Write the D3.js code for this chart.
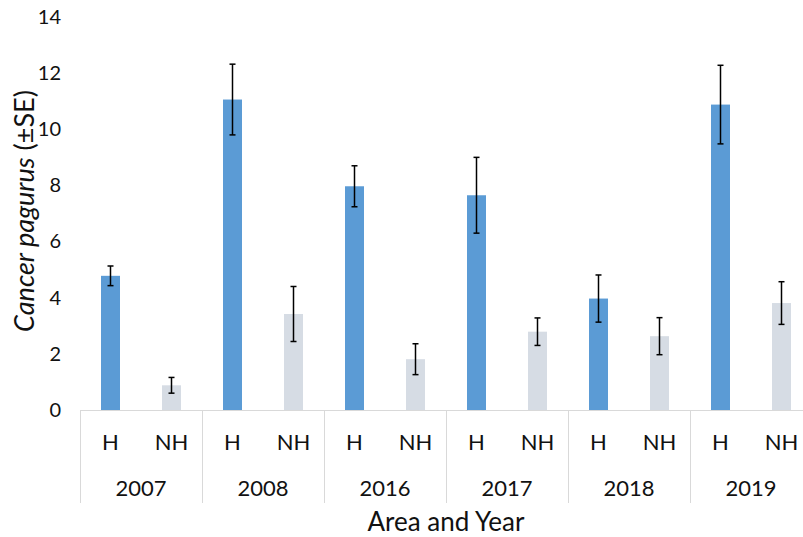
<!DOCTYPE html>
<html>
<head>
<meta charset="utf-8">
<script src="https://cdn.jsdelivr.net/npm/d3@7"></script>
<style>
  html, body { margin: 0; padding: 0; background: #fff; }
  svg { display: block; font-family: Lato, "Open Sans", sans-serif; }
</style>
</head>
<body>
<svg id="chart" width="803" height="537"></svg>
<script>
// Mean abundance of Cancer pagurus by area (H / NH) and survey year
const years = ["2007", "2008", "2016", "2017", "2018", "2019"];
const areas = ["H", "NH"];
const meanH  = [4.78, 11.06, 7.97, 7.65, 3.97, 10.88];
const meanNH = [0.88, 3.42, 1.81, 2.79, 2.63, 3.81];
const seH    = [0.35, 1.26, 0.73, 1.35, 0.84, 1.40];
const seNH   = [0.28, 0.98, 0.55, 0.49, 0.66, 0.76];
const yTicks = [0, 2, 4, 6, 8, 10, 12, 14];

const colors = { H: "#5B9BD5", NH: "#D6DCE4" };
const textCol = "#111";

const rows = [];
years.forEach((yr, i) => {
  rows.push({ year: yr, area: "H",  mean: meanH[i],  se: seH[i] });
  rows.push({ year: yr, area: "NH", mean: meanNH[i], se: seNH[i] });
});

const svg = d3.select("#chart");
const plotLeft = 80, plotRight = 812, plotTop = 17, plotBottom = 410;

const x0 = d3.scaleBand().domain(years).range([plotLeft, plotRight]);
const x1 = d3.scaleBand().domain(areas).range([0, x0.bandwidth()]);
const y = d3.scaleLinear().domain([0, 14]).range([plotBottom, plotTop]);
const barW = 19;

// y-axis tick labels
const yAxis = d3.axisLeft(y).tickValues(yTicks).tickSize(0).tickPadding(0);
const gy = svg.append("g").attr("transform", `translate(${61},0)`).call(yAxis);
gy.select(".domain").remove();
gy.selectAll("text").attr("font-size", 20).attr("fill", textCol)
  .attr("font-family", "Lato, 'Open Sans', sans-serif");

// bars
const g = svg.append("g");
g.selectAll("rect.bar").data(rows).join("rect")
  .attr("class", "bar")
  .attr("x", d => x0(d.year) + x1(d.area) + x1.bandwidth() / 2 - barW / 2)
  .attr("width", barW)
  .attr("y", d => y(d.mean))
  .attr("height", d => y(0) - y(d.mean))
  .attr("fill", d => colors[d.area]);

// error bars (±SE)
const cx = d => x0(d.year) + x1(d.area) + x1.bandwidth() / 2;
const eb = g.selectAll("g.err").data(rows).join("g").attr("class", "err")
  .attr("stroke", "#000").attr("stroke-width", 1.5);
eb.append("line").attr("x1", cx).attr("x2", cx)
  .attr("y1", d => y(d.mean + d.se)).attr("y2", d => y(d.mean - d.se));
eb.append("line").attr("x1", d => cx(d) - 3).attr("x2", d => cx(d) + 3)
  .attr("y1", d => y(d.mean + d.se)).attr("y2", d => y(d.mean + d.se));
eb.append("line").attr("x1", d => cx(d) - 3).attr("x2", d => cx(d) + 3)
  .attr("y1", d => y(d.mean - d.se)).attr("y2", d => y(d.mean - d.se));

// category axis: baseline and group separators
const axisCol = "#D9D9D9";
svg.append("line").attr("x1", plotLeft).attr("x2", plotRight)
  .attr("y1", plotBottom + 0.5).attr("y2", plotBottom + 0.5)
  .attr("stroke", axisCol).attr("stroke-width", 1);
const seps = years.map(yr => x0(yr)).concat([plotRight]);
svg.selectAll("line.sep").data(seps).join("line").attr("class", "sep")
  .attr("x1", d => Math.round(d) + 0.5).attr("x2", d => Math.round(d) + 0.5)
  .attr("y1", plotBottom).attr("y2", 503)
  .attr("stroke", axisCol).attr("stroke-width", 1);

// area labels
svg.selectAll("text.area").data(rows).join("text").attr("class", "area")
  .attr("x", cx).attr("y", 442).attr("dy", "0.35em")
  .attr("text-anchor", "middle").attr("font-size", 22).attr("fill", textCol)
  .text(d => d.area);

// year labels
svg.selectAll("text.year").data(years).join("text").attr("class", "year")
  .attr("x", d => x0(d) + x0.bandwidth() / 2).attr("y", 488).attr("dy", "0.35em")
  .attr("text-anchor", "middle").attr("font-size", 22).attr("fill", textCol)
  .text(d => d);

// axis titles
svg.append("text").attr("x", 446).attr("y", 522).attr("dy", "0.35em")
  .attr("text-anchor", "middle").attr("font-size", 26).attr("fill", textCol)
  .text("Area and Year");

const yt = svg.append("text")
  .attr("transform", "translate(25,211) rotate(-90)")
  .attr("dy", "0.35em").attr("text-anchor", "middle")
  .attr("font-size", 27).attr("fill", textCol);
yt.append("tspan").attr("font-style", "italic").text("Cancer pagurus");
yt.append("tspan").text(" (±SE)");
</script>
</body>
</html>
